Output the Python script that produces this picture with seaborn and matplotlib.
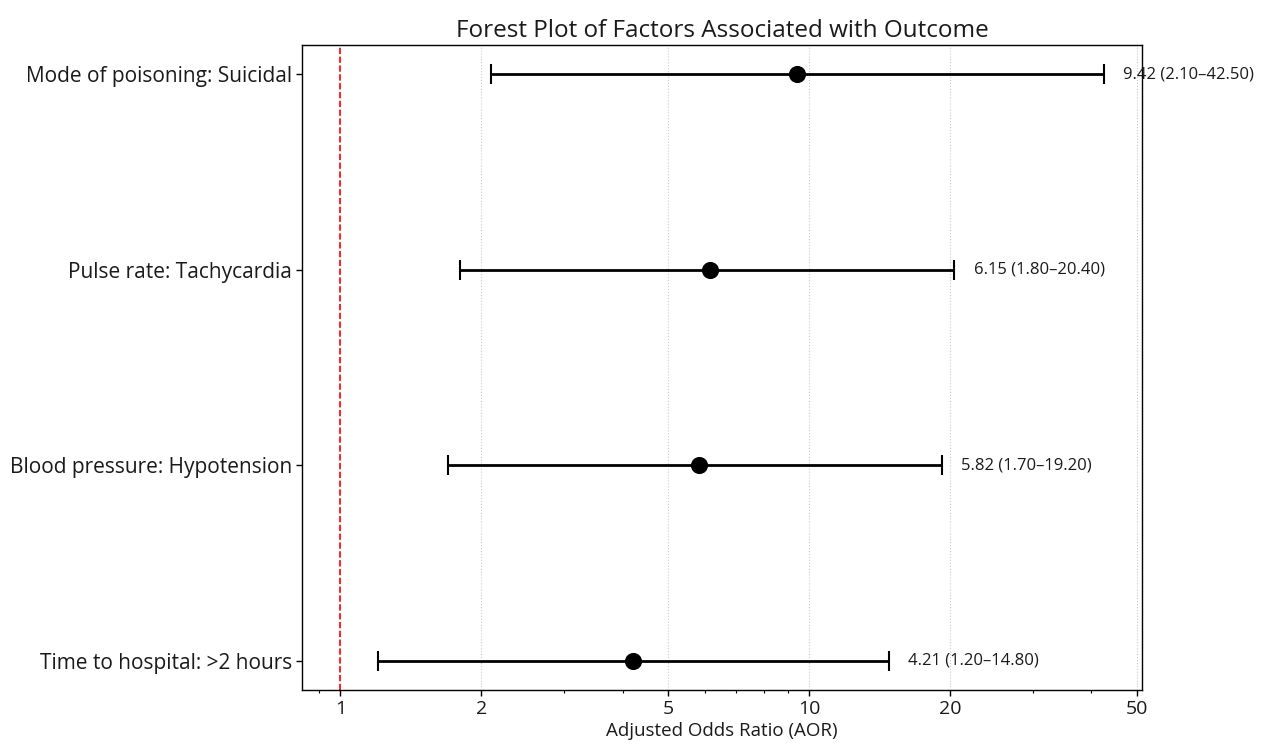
# Forest plot of adjusted odds ratios
import matplotlib
matplotlib.use("Agg")
import matplotlib.pyplot as plt
from matplotlib.ticker import ScalarFormatter, NullFormatter
import numpy as np
import pandas as pd
import seaborn as sns

# Data (top to bottom)
factors = ["Mode of poisoning: Suicidal", "Pulse rate: Tachycardia",
           "Blood pressure: Hypotension", "Time to hospital: >2 hours"]
aor = [9.42, 6.15, 5.82, 4.21]
ci_low = [2.10, 1.80, 1.70, 1.20]
ci_high = [42.50, 20.40, 19.20, 14.80]
xticks = [1, 2, 5, 10, 20, 50]

df = pd.DataFrame({"factor": factors, "aor": aor, "low": ci_low, "high": ci_high})
df["pos"] = np.arange(len(df))[::-1]

sns.set_theme(style="ticks")
plt.rcParams["font.family"] = ["Open Sans", "DejaVu Sans"]
plt.rcParams["text.color"] = "#1a1a1a"
plt.rcParams["xtick.color"] = "black"
plt.rcParams["ytick.color"] = "black"
plt.rcParams["xtick.labelcolor"] = "#1a1a1a"
plt.rcParams["ytick.labelcolor"] = "#1a1a1a"
plt.rcParams["axes.labelcolor"] = "#1a1a1a"

fig, ax = plt.subplots(figsize=(12.7, 7.49), dpi=100)
fig.subplots_adjust(left=0.238, right=0.899, top=0.94, bottom=0.079)

ax.errorbar(df["aor"], df["pos"],
            xerr=[df["aor"] - df["low"], df["high"] - df["aor"]],
            fmt="none", ecolor="black", elinewidth=2, capsize=7, capthick=1.5, zorder=2)
sns.scatterplot(data=df, x="aor", y="pos", color="black", s=130, edgecolor="black",
                zorder=3, ax=ax, legend=False)
ax.axvline(1, color="red", linestyle="--", linewidth=1.2, zorder=1)

for _, r in df.iterrows():
    ax.text(r["high"] * 1.1, r["pos"], f"{r['aor']:.2f} ({r['low']:.2f}\u2013{r['high']:.2f})",
            va="center", ha="left", fontsize=12)

ax.set_xscale("log")
ax.set_xticks(xticks)
ax.xaxis.set_major_formatter(ScalarFormatter())
ax.xaxis.set_minor_formatter(NullFormatter())
ax.set_yticks(df["pos"])
ax.set_yticklabels(df["factor"])
ax.tick_params(axis="y", labelsize=15, length=4, width=1)
ax.tick_params(axis="x", which="major", labelsize=14, length=4, width=1)
ax.tick_params(axis="x", which="minor", length=2.5, width=0.8)
ax.grid(axis="x", which="major", linestyle=":", color="#cccccc", linewidth=0.8)
ax.set_axisbelow(True)
for s in ax.spines.values():
    s.set_color("black")
    s.set_linewidth(1)

ax.set_xlabel("Adjusted Odds Ratio (AOR)", fontsize=13.5, labelpad=3)
ax.set_ylabel("")
ax.set_title("Forest Plot of Factors Associated with Outcome", fontsize=17.5)

plt.savefig("out.png", dpi=100)
plt.close()
